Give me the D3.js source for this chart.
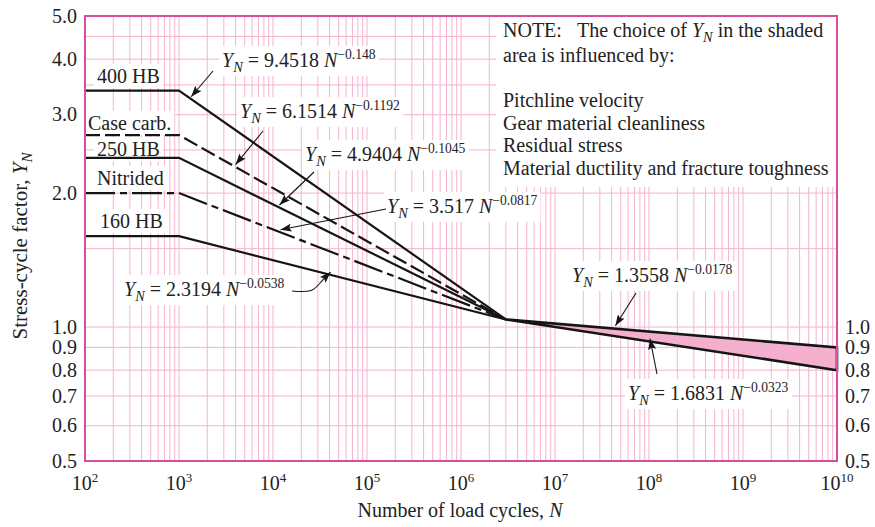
<!DOCTYPE html>
<html>
<head>
<meta charset="utf-8">
<script src="https://cdn.jsdelivr.net/npm/d3@7"></script>
<style>
  body { margin: 0; background: #fff; }
  svg { display: block; font-family: "Liberation Serif", "Times New Roman", serif; }
</style>
</head>
<body>
<svg width="875" height="527"></svg>
<script>
// values
const cycles = [1e2, 1e3, 3e6];          // knee points of the left-hand curves
const hb400 = [3.4, 3.4, 1.04];
const caseCarb = [2.7, 2.7, 1.04];
const hb250 = [2.4, 2.4, 1.04];
const nitrided = [2.0, 2.0, 1.04];
const hb160 = [1.6, 1.6, 1.04];

const bandCycles = [3e6, 1e10];          // shaded region
const bandUpper = [1.04, 0.90];
const bandLower = [1.04, 0.80];

const curveNames = ['400 HB', 'Case carb.', '250 HB', 'Nitrided', '160 HB'];
const eqCoef = ['9.4518', '6.1514', '4.9404', '3.517', '2.3194', '1.3558', '1.6831'];
const eqExp = ['0.148', '0.1192', '0.1045', '0.0817', '0.0538', '0.0178', '0.0323'];

const yTicksLeft = [0.5, 0.6, 0.7, 0.8, 0.9, 1.0, 2.0, 3.0, 4.0, 5.0];
const yTicksRight = [0.5, 0.6, 0.7, 0.8, 0.9, 1.0];
const yGrid = [0.5, 0.6, 0.7, 0.8, 0.9, 1.0, 1.5, 2.0, 2.5, 3.0, 3.5, 4.0, 4.5, 5.0];
const xExponents = [2, 3, 4, 5, 6, 7, 8, 9, 10];

const noteLines = ['area is influenced by:', '', 'Pitchline velocity', 'Gear material cleanliness',
                   'Residual stress', 'Material ductility and fracture toughness'];

const svg = d3.select('svg');
const FS = 20;
const PINK = '#d64f9e';
const GRID = '#f5b3cf';
const INK = '#151515';

const pLeft = 85, pRight = 837, pTop = 16, pBottom = 461;
const x = d3.scaleLog().domain([1e2, 1e10]).range([pLeft, pRight]);
const y = d3.scaleLog().domain([0.5, 5]).range([pBottom, pTop]);

const series = [
    { vals: hb400, dash: null },
    { vals: caseCarb, dash: '15,5' },
    { vals: hb250, dash: null },
    { vals: nitrided, dash: '30,5,7,5' },
    { vals: hb160, dash: null }
];

// arrow marker
svg.append('defs').append('marker')
    .attr('id', 'arr')
    .attr('markerUnits', 'userSpaceOnUse')
    .attr('markerWidth', 12).attr('markerHeight', 8)
    .attr('refX', 11).attr('refY', 4)
    .attr('orient', 'auto')
    .append('path').attr('d', 'M0,0 L11,4 L0,8 L2,4 z').attr('fill', INK);

// grid
const grid = svg.append('g');
grid.selectAll('line.gx')
    .data(x.ticks())
    .enter().append('line')
    .attr('x1', d => x(d)).attr('x2', d => x(d))
    .attr('y1', pTop).attr('y2', pBottom)
    .attr('stroke', GRID).attr('stroke-width', 1);
grid.selectAll('line.gy')
    .data(yGrid)
    .enter().append('line')
    .attr('x1', pLeft).attr('x2', pRight)
    .attr('y1', d => y(d)).attr('y2', d => y(d))
    .attr('stroke', GRID).attr('stroke-width', 1);

const boxLayer = svg.append('g');
const markLayer = svg.append('g');
const textLayer = svg.append('g').attr('font-size', FS).attr('fill', '#222');

// note box
boxLayer.append('rect')
    .attr('x', 496).attr('y', pTop + 1)
    .attr('width', pRight - 497).attr('height', 170)
    .attr('fill', '#fff');

// curves
const line = d3.line().x(d => x(d[0])).y(d => y(d[1]));
series.forEach(s => {
    markLayer.append('path')
        .attr('d', line(cycles.map((c, i) => [c, s.vals[i]])))
        .attr('fill', 'none')
        .attr('stroke', INK)
        .attr('stroke-width', 2.2)
        .attr('stroke-dasharray', s.dash);
});

// shaded band
const band = bandCycles.map((c, i) => [c, bandUpper[i]])
    .concat(bandCycles.map((c, i) => [c, bandLower[i]]).reverse());
markLayer.append('path')
    .attr('d', line(band) + 'Z')
    .attr('fill', '#f4afcd')
    .attr('stroke', INK)
    .attr('stroke-width', 2.6)
    .attr('stroke-linejoin', 'miter');

// border
svg.append('rect')
    .attr('x', pLeft).attr('y', pTop)
    .attr('width', pRight - pLeft).attr('height', pBottom - pTop)
    .attr('fill', 'none').attr('stroke', PINK).attr('stroke-width', 2);

// value on a polyline in log-log space
function valueAt(xs, ys, n) {
    for (let i = 0; i < xs.length - 1; i++) {
        if (n >= xs[i] && n <= xs[i + 1]) {
            const t = Math.log(n / xs[i]) / Math.log(xs[i + 1] / xs[i]);
            return Math.exp(Math.log(ys[i]) + t * Math.log(ys[i + 1] / ys[i]));
        }
    }
    return ys[ys.length - 1];
}

function addBox(node, px, py) {
    const b = node.getBBox();
    boxLayer.append('rect')
        .attr('x', b.x - px).attr('y', b.y - py)
        .attr('width', b.width + 2 * px).attr('height', b.height + 2 * py)
        .attr('fill', '#fff');
}

// curve names
const namePos = [[97, 83], [88, 130], [97, 156], [97, 185], [100, 228]];
curveNames.forEach((name, i) => {
    const t = textLayer.append('text')
        .attr('x', namePos[i][0]).attr('y', namePos[i][1])
        .text(name);
    addBox(t.node(), 3, 1);
});

// equations: text start, baseline, arrow tail, arrow tip N
const eqLayout = [
    { tx: 222, ty: 67, tail: [213, 71], vals: hb400, xs: cycles, n: 1380 },
    { tx: 240, ty: 118, tail: [263, 131], vals: caseCarb, xs: cycles, n: 4100 },
    { tx: 305, ty: 161, tail: [314, 172], vals: hb250, xs: cycles, n: 12000 },
    { tx: 387, ty: 213, tail: [386, 209], vals: nitrided, xs: cycles, n: 12300 },
    { tx: 124, ty: 296, tail: [292, 291], vals: hb160, xs: cycles, n: 42000, wavy: true },
    { tx: 572, ty: 282, tail: [636, 293], vals: bandUpper, xs: bandCycles, n: 4.5e7 },
    { tx: 628, ty: 400, tail: [657, 374], vals: bandLower, xs: bandCycles, n: 1.05e8 }
];

function eqText(tx, ty, coef, exp) {
    const t = textLayer.append('text').attr('x', tx).attr('y', ty);
    t.append('tspan').attr('font-style', 'italic').text('Y');
    t.append('tspan').attr('font-style', 'italic').attr('font-size', '0.72em').attr('dy', 5).text('N');
    t.append('tspan').attr('dy', -5).text(' = ' + coef + ' ');
    t.append('tspan').attr('font-style', 'italic').text('N');
    t.append('tspan').attr('font-size', '0.68em').attr('dy', -8).text('\u2212' + exp);
    return t;
}

eqLayout.forEach((e, i) => {
    const t = eqText(e.tx, e.ty, eqCoef[i], eqExp[i]);
    addBox(t.node(), 3, 1);
    const tip = [x(e.n) - 1, y(valueAt(e.xs, e.vals, e.n)) - 3];
    let d;
    if (e.wavy) {
        d = `M${e.tail[0]},${e.tail[1]} C${e.tail[0] + 22},${e.tail[1] + 2} ${e.tail[0] + 22},${e.tail[1] - 1} ${tip[0] - 8},${tip[1] + 8} L${tip[0]},${tip[1]}`;
    } else {
        d = `M${e.tail[0]},${e.tail[1]} L${tip[0]},${tip[1]}`;
    }
    markLayer.append('path')
        .attr('d', d)
        .attr('fill', 'none')
        .attr('stroke', INK)
        .attr('stroke-width', 1.1)
        .attr('marker-end', 'url(#arr)');
});

// note
const n1 = textLayer.append('text').attr('x', 503).attr('y', 37);
n1.append('tspan').text('NOTE:');
n1.append('tspan').attr('x', 577).text('The choice of ');
n1.append('tspan').attr('font-style', 'italic').text('Y');
n1.append('tspan').attr('font-style', 'italic').attr('font-size', '0.72em').attr('dy', 5).text('N');
n1.append('tspan').attr('dy', -5).text(' in the shaded');
noteLines.forEach((s, i) => {
    textLayer.append('text')
        .attr('x', 503).attr('y', 62 + i * 22.6)
        .text(s);
});

// y tick labels
textLayer.selectAll('text.yl')
    .data(yTicksLeft)
    .enter().append('text')
    .attr('x', 77).attr('y', d => y(d))
    .attr('dy', '0.33em')
    .attr('text-anchor', 'end')
    .text(d => d.toFixed(1));
textLayer.selectAll('text.yr')
    .data(yTicksRight)
    .enter().append('text')
    .attr('x', 845).attr('y', d => y(d))
    .attr('dy', '0.33em')
    .text(d => d.toFixed(1));

// x tick labels
xExponents.forEach(e => {
    const t = textLayer.append('text')
        .attr('x', x(Math.pow(10, e))).attr('y', 490)
        .attr('text-anchor', 'middle');
    t.append('tspan').text('10');
    t.append('tspan').attr('font-size', '0.65em').attr('dy', -8).text(e);
});

// axis titles
const xt = textLayer.append('text')
    .attr('x', 460).attr('y', 517)
    .attr('text-anchor', 'middle');
xt.append('tspan').text('Number of load cycles, ');
xt.append('tspan').attr('font-style', 'italic').text('N');

const yt = textLayer.append('text')
    .attr('transform', 'translate(27,246) rotate(-90)')
    .attr('text-anchor', 'middle')
    .attr('font-size', 21);
yt.append('tspan').text('Stress-cycle factor, ');
yt.append('tspan').attr('font-style', 'italic').text('Y');
yt.append('tspan').attr('font-style', 'italic').attr('font-size', '0.72em').attr('dy', 5).text('N');
</script>
</body>
</html>
